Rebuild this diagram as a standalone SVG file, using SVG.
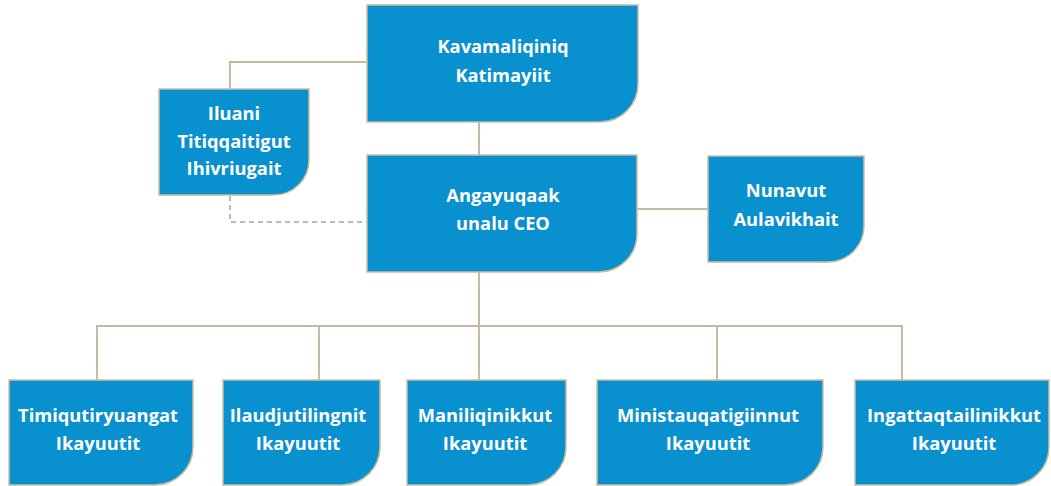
<svg xmlns="http://www.w3.org/2000/svg" width="1051" height="486" viewBox="0 0 1051 486">
<style>
.box{fill:#0990cf;stroke:#cbbd9f;stroke-width:1.5}
.t{font-family:"Open Sans",Lato,sans-serif;font-weight:bold;font-size:18.3px;fill:#ffffff;text-anchor:middle}
.c{fill:none;stroke:#c4b9a3;stroke-width:2}
.d{fill:none;stroke:#a8a39a;stroke-width:1.5;stroke-dasharray:5 4}
</style>
<rect width="1051" height="486" fill="#ffffff"/>
<g id="connectors">
<path class="c" d="M367 62 H230 V89"/>
<path class="d" d="M230 196 V222 H367"/>
<path class="c" d="M479 122 V155"/>
<path class="c" d="M637 209 H708"/>
<path class="c" d="M479 272 V326"/>
<path class="c" d="M97 380 V326 H902 V380"/>
<path class="c" d="M319 326 V380"/>
<path class="c" d="M479 326 V380"/>
<path class="c" d="M717 326 V380"/>
</g>
<g id="n-top">
<path class="box" d="M367 5 H638 V84 A38 38 0 0 1 600 122 H367 Z"/>
<text class="t" x="503" y="53">Kavamaliqiniq</text>
<text class="t" x="503" y="82">Katimayiit</text>
</g>
<g id="n-iluani">
<path class="box" d="M159 89 H309 V160 A35 35 0 0 1 274 195 H159 Z"/>
<text class="t" x="234" y="120">Iluani</text>
<text class="t" x="234" y="148">Titiqqaitigut</text>
<text class="t" x="234" y="175">Ihivriugait</text>
</g>
<g id="n-ceo">
<path class="box" d="M367 155 H637 V234 A38 38 0 0 1 599 272 H367 Z"/>
<text class="t" x="503" y="202">Angayuqaak</text>
<text class="t" x="503" y="230">unalu CEO</text>
</g>
<g id="n-nunavut">
<path class="box" d="M708 156 H864 V226 A36 36 0 0 1 828 262 H708 Z"/>
<text class="t" x="786" y="197">Nunavut</text>
<text class="t" x="786" y="226">Aulavikhait</text>
</g>
<g id="n-b1">
<path class="box" d="M9 380 H193 V447 A38 38 0 0 1 155 485 H9 Z"/>
<text class="t" x="98" y="422">Timiqutiryuangat</text>
<text class="t" x="98" y="450">Ikayuutit</text>
</g>
<g id="n-b2">
<path class="box" d="M223 380 H380 V447 A38 38 0 0 1 342 485 H223 Z"/>
<text class="t" x="298" y="422">Ilaudjutilingnit</text>
<text class="t" x="298" y="450">Ikayuutit</text>
</g>
<g id="n-b3">
<path class="box" d="M407 380 H566 V447 A38 38 0 0 1 528 485 H407 Z"/>
<text class="t" x="485" y="422">Maniliqinikkut</text>
<text class="t" x="485" y="450">Ikayuutit</text>
</g>
<g id="n-b4">
<path class="box" d="M597 380 H823 V447 A38 38 0 0 1 785 485 H597 Z"/>
<text class="t" x="708" y="422">Ministauqatigiinnut</text>
<text class="t" x="708" y="450">Ikayuutit</text>
</g>
<g id="n-b5">
<path class="box" d="M855 380 H1049 V447 A38 38 0 0 1 1011 485 H855 Z"/>
<text class="t" x="954" y="422">Ingattaqtailinikkut</text>
<text class="t" x="954" y="450">Ikayuutit</text>
</g>
</svg>
